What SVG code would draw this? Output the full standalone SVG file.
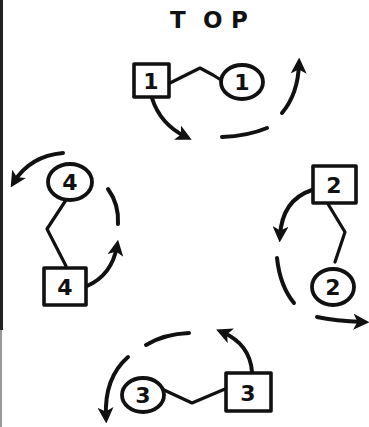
<svg xmlns="http://www.w3.org/2000/svg" width="369" height="427" viewBox="0 0 369 427">
  <style>
    .box { fill: #fff; stroke: #111; stroke-width: 3.6; stroke-linejoin: round; }
    .ring { fill: #fff; stroke: #111; stroke-width: 3.8; }
    .num { font-family: "DejaVu Sans", "Liberation Sans", sans-serif; font-weight: bold; font-size: 22px; fill: #111; text-anchor: middle; }
    .link { fill: none; stroke: #111; stroke-width: 3.2; stroke-linejoin: round; stroke-linecap: round; }
    .turn { fill: none; stroke: #111; stroke-width: 4; stroke-linecap: round; }
    .title { font-family: "DejaVu Sans", "Liberation Sans", sans-serif; font-weight: bold; font-size: 23px; fill: #111; }
  </style>
  <defs>
    <marker id="head" viewBox="0 0 10 10" refX="6" refY="5" markerWidth="4" markerHeight="4" orient="auto" markerUnits="strokeWidth">
      <path d="M0,0 L10,5 L0,10 L2.5,5 Z" fill="#111"/>
    </marker>
  </defs>
  <rect width="369" height="427" fill="#fff"/>
  <!-- scanner edge -->
  <line x1="1.5" y1="0" x2="1.5" y2="330" stroke="#222" stroke-width="3"/>
  <line x1="1" y1="330" x2="1" y2="427" stroke="#999" stroke-width="2"/>

  <text class="title" x="170 203 231" y="28">TOP</text>

  <g id="connectors">
    <!-- zigzag links between each square and its circle -->
    <polyline class="link" points="168,84 200,68 213,75 221,80"/>
    <polyline class="link" points="328,204 345,232 335,262"/>
    <polyline class="link" points="225,389 192,403 164,390"/>
    <polyline class="link" points="66,266 47,229 66,200"/>
    <!-- rotation arrows and dashed arc segments -->
    <path class="turn" d="M152,98 Q160,124 186,137" marker-end="url(#head)"/>
    <path class="turn" d="M222,137 Q248,136 267,128"/>
    <path class="turn" d="M282,113 Q298,94 299,64" marker-end="url(#head)"/>
    <path class="turn" d="M312,190 Q282,200 280,236" marker-end="url(#head)"/>
    <path class="turn" d="M277,258 Q280,286 294,303"/>
    <path class="turn" d="M317,317 Q335,321 363,322" marker-end="url(#head)"/>
    <path class="turn" d="M252,372 Q250,344 222,332" marker-end="url(#head)"/>
    <path class="turn" d="M146,345 Q164,334 189,333"/>
    <path class="turn" d="M128,357 Q104,378 106,417" marker-end="url(#head)"/>
    <path class="turn" d="M87,286 Q112,275 117,246" marker-end="url(#head)"/>
    <path class="turn" d="M108,189 Q119,204 118,224"/>
    <path class="turn" d="M63,153 Q30,156 14,182" marker-end="url(#head)"/>
  </g>

  <g id="square-1">
    <rect class="box" x="134" y="64" width="35" height="33"/>
    <text class="num" x="151" y="89">1</text>
  </g>
  <g id="circle-1">
    <ellipse class="ring" cx="242" cy="82" rx="21" ry="17"/>
    <text class="num" x="242" y="90">1</text>
  </g>
  <g id="square-2">
    <rect class="box" x="313" y="166" width="43" height="37"/>
    <text class="num" x="334" y="193">2</text>
  </g>
  <g id="circle-2">
    <ellipse class="ring" cx="333" cy="287" rx="21" ry="18"/>
    <text class="num" x="333" y="295">2</text>
  </g>
  <g id="square-3">
    <rect class="box" x="226" y="373" width="45" height="38"/>
    <text class="num" x="248" y="401">3</text>
  </g>
  <g id="circle-3">
    <ellipse class="ring" cx="143" cy="395" rx="21" ry="17"/>
    <text class="num" x="143" y="403">3</text>
  </g>
  <g id="square-4">
    <rect class="box" x="44" y="268" width="42" height="37"/>
    <text class="num" x="65" y="295">4</text>
  </g>
  <g id="circle-4">
    <ellipse class="ring" cx="70" cy="182" rx="22" ry="18"/>
    <text class="num" x="70" y="190">4</text>
  </g>
</svg>
